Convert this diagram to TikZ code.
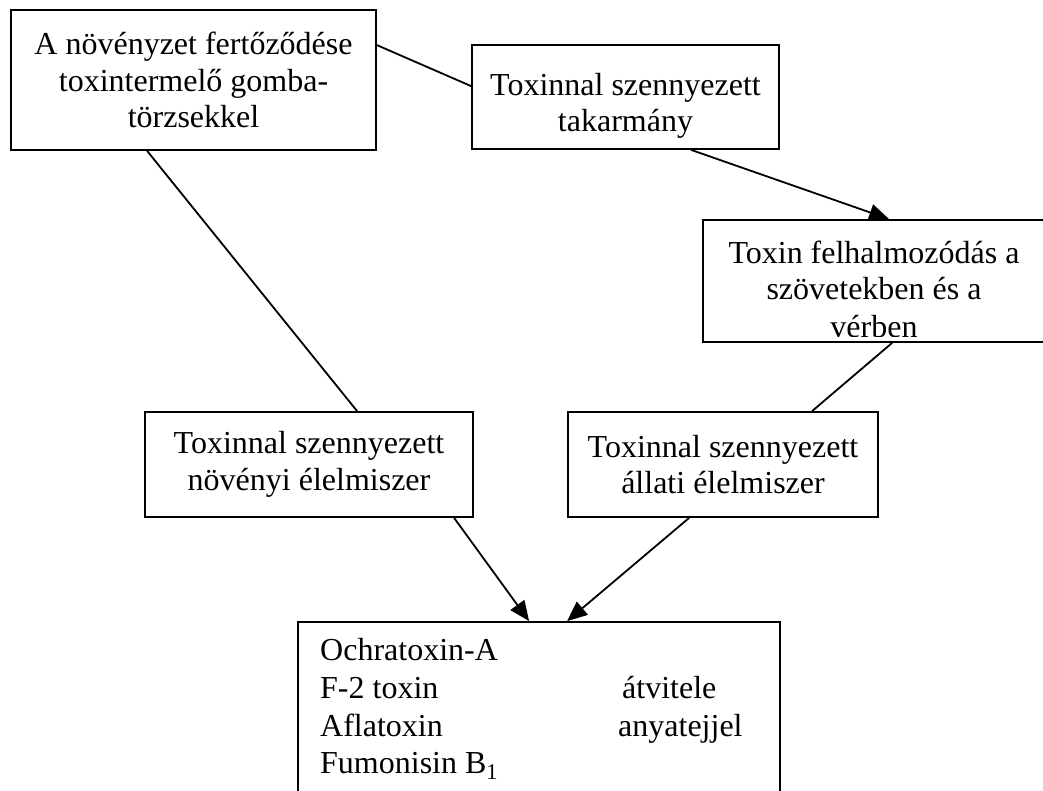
\documentclass[tikz,border=0pt]{standalone}
\usepackage{fontspec}
\setmainfont{Liberation Serif}
\usetikzlibrary{arrows.meta,calc}
\begin{document}
\begin{tikzpicture}[x=1pt,y=-1pt,
  box/.style={draw,line width=1.8pt,inner sep=0pt,align=center,
    font=\fontsize{32}{36.5}\selectfont},
  frame/.style={draw,line width=1.8pt,inner sep=0pt},
  txt/.style={inner sep=0pt,font=\fontsize{32}{36}\selectfont},
  conn/.style={line width=1.8pt},
  arr/.style={line width=1.8pt,-{Triangle[length=20pt,width=17pt]}}]
\useasboundingbox (0,0) rectangle (1043,791);
% boxes
\node[box,minimum width=365pt,minimum height=140pt] (A) at (193.5,80)
  {A növényzet fertőződése\\toxintermelő gomba-\\törzsekkel};
\node[frame,minimum width=307pt,minimum height=104pt] (B) at (625.5,97) {};
\node[txt,anchor=base] (b1) at (625.5,96) {Toxinnal szennyezett};
\node[txt,anchor=base] (b2) at (625.5,132) {takarmány};
\node[frame,minimum width=342pt,minimum height=122pt] (C) at (874,281) {};
\begin{scope}
  \clip (703,219) rectangle (1045,336);
  \node[txt,anchor=base] (c1) at (874,264) {Toxin felhalmozódás a};
  \node[txt,anchor=base] (c2) at (874,300) {szövetekben és a};
  \node[txt,anchor=base] (c3) at (874,337) {vérben};
\end{scope}
\node[box,minimum width=328pt,minimum height=105pt] (D) at (309,464.5)
  {Toxinnal szennyezett\\növényi élelmiszer};
\node[box,minimum width=310pt,minimum height=105pt] (E) at (723,464.5)
  {Toxinnal szennyezett\\állati élelmiszer};
\node[frame,minimum width=482pt,minimum height=200pt] (F) at (539,722) {};
\node[txt,anchor=base west] (f1) at (320,660) {Ochratoxin-A};
\node[txt,anchor=base west] (f2) at (320,698) {F-2 toxin};
\node[txt,anchor=base west] (f3) at (320,736) {Aflatoxin};
\node[txt,anchor=base west] (f4) at (320,773) {Fumonisin B\textsubscript{1}};
\node[txt,anchor=base west] (g1) at (622,698) {átvitele};
\node[txt,anchor=base west] (g2) at (618,736) {anyatejjel};
% connectors
\draw[conn] ($(A.north east)+(0,36)$) -- ($(B.north west)+(0,42)$);
\draw[conn] ($(A.south west)+(137,0)$) -- ($(D.north west)+(213,0)$);
\draw[arr] ($(B.south west)+(220,0)$) -- ($(C.north west)+(187,0)$);
\draw[conn] ($(C.south west)+(190,0)$) -- ($(E.north west)+(245,0)$);
\draw[arr] ($(D.south west)+(310,0)$) -- ($(F.north west)+(232,0)$);
\draw[arr] ($(E.south west)+(122,0)$) -- ($(F.north west)+(270,0)$);
\end{tikzpicture}
\end{document}
